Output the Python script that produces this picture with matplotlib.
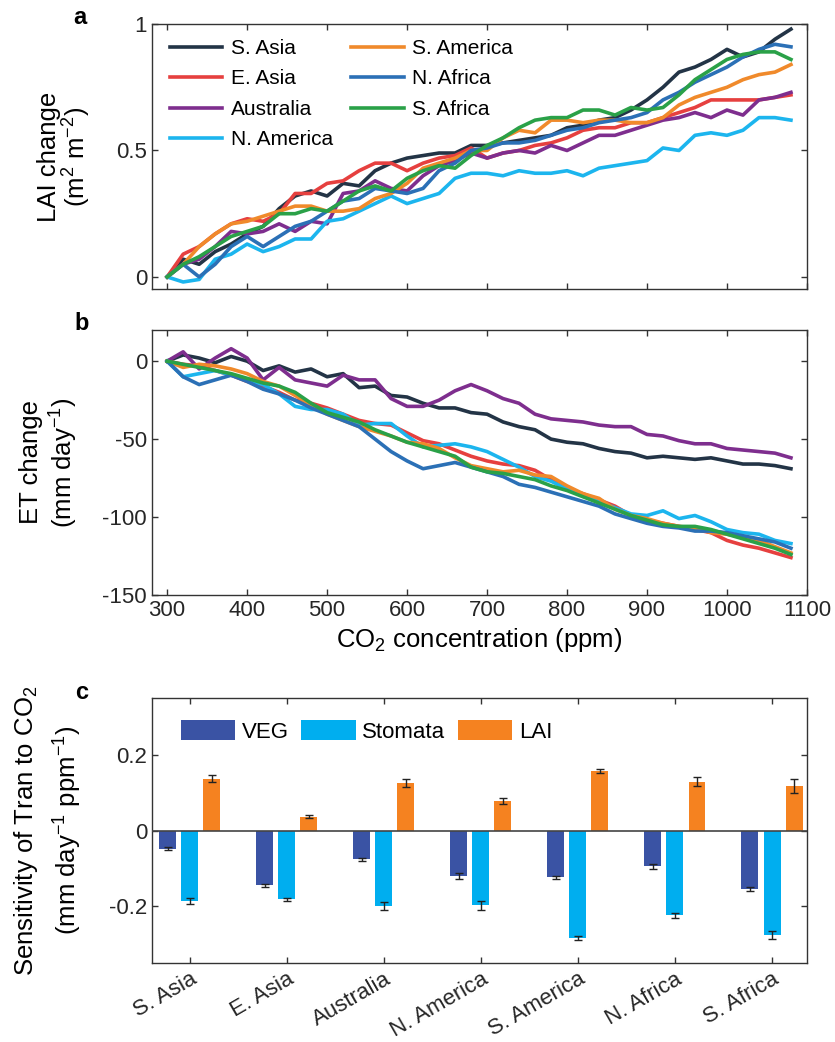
import matplotlib

matplotlib.use("Agg")
import matplotlib.pyplot as plt
import numpy as np

plt.rcParams["font.family"] = ["Liberation Sans", "DejaVu Sans"]
plt.rcParams["axes.unicode_minus"] = False
plt.rcParams["mathtext.fontset"] = "custom"
plt.rcParams["mathtext.rm"] = "Liberation Sans"
plt.rcParams["mathtext.it"] = "Liberation Sans:italic"
plt.rcParams["mathtext.bf"] = "Liberation Sans:bold"

# CO2 levels (ppm), every 20 ppm
co2 = np.arange(300, 1081, 20)

regions = ["S. Asia", "E. Asia", "Australia", "N. America",
           "S. America", "N. Africa", "S. Africa"]
colors = ["#233446", "#E6403F", "#7E2E8E", "#1CB5EE",
          "#F08A2B", "#2B70B6", "#2AA148"]

# LAI change (m2 m-2)
lai_sasia = [0.0, 0.07, 0.05, 0.10, 0.13, 0.17, 0.20, 0.27, 0.32, 0.34,
             0.32, 0.37, 0.36, 0.42, 0.45, 0.47, 0.48, 0.49, 0.49, 0.52,
             0.52, 0.53, 0.54, 0.55, 0.56, 0.59, 0.60, 0.62, 0.63, 0.66,
             0.70, 0.75, 0.81, 0.83, 0.86, 0.90, 0.87, 0.89, 0.94, 0.98]
lai_easia = [0.0, 0.09, 0.12, 0.17, 0.21, 0.23, 0.22, 0.25, 0.33, 0.33,
             0.37, 0.38, 0.42, 0.45, 0.45, 0.42, 0.45, 0.47, 0.48, 0.51,
             0.47, 0.49, 0.50, 0.52, 0.53, 0.55, 0.58, 0.59, 0.59, 0.61,
             0.61, 0.63, 0.65, 0.67, 0.70, 0.70, 0.70, 0.70, 0.71, 0.72]
lai_austr = [0.0, 0.05, 0.07, 0.12, 0.18, 0.17, 0.18, 0.21, 0.18, 0.22,
             0.21, 0.33, 0.34, 0.38, 0.35, 0.34, 0.40, 0.44, 0.46, 0.49,
             0.47, 0.49, 0.50, 0.49, 0.52, 0.50, 0.53, 0.56, 0.56, 0.58,
             0.60, 0.62, 0.63, 0.65, 0.63, 0.66, 0.64, 0.70, 0.71, 0.73]
lai_namer = [0.0, -0.02, -0.01, 0.07, 0.09, 0.13, 0.10, 0.12, 0.15, 0.15,
             0.22, 0.23, 0.26, 0.29, 0.32, 0.29, 0.31, 0.33, 0.39, 0.41,
             0.41, 0.40, 0.42, 0.41, 0.41, 0.42, 0.40, 0.43, 0.44, 0.45,
             0.46, 0.51, 0.50, 0.56, 0.57, 0.56, 0.58, 0.63, 0.63, 0.62]
lai_samer = [0.0, 0.05, 0.12, 0.17, 0.21, 0.22, 0.24, 0.26, 0.28, 0.28,
             0.26, 0.26, 0.27, 0.31, 0.33, 0.37, 0.43, 0.45, 0.47, 0.50,
             0.50, 0.55, 0.58, 0.57, 0.62, 0.62, 0.61, 0.62, 0.62, 0.61,
             0.61, 0.63, 0.68, 0.71, 0.73, 0.75, 0.78, 0.80, 0.81, 0.84]
lai_nafr = [0.0, 0.05, 0.00, 0.05, 0.12, 0.16, 0.12, 0.16, 0.20, 0.22,
            0.26, 0.30, 0.31, 0.35, 0.34, 0.33, 0.35, 0.42, 0.45, 0.50,
            0.51, 0.53, 0.53, 0.54, 0.56, 0.58, 0.59, 0.61, 0.62, 0.63,
            0.65, 0.70, 0.73, 0.77, 0.80, 0.83, 0.87, 0.90, 0.92, 0.91]
lai_safr = [0.0, 0.05, 0.08, 0.12, 0.16, 0.18, 0.20, 0.25, 0.25, 0.27,
            0.26, 0.30, 0.34, 0.36, 0.34, 0.39, 0.42, 0.44, 0.43, 0.48,
            0.52, 0.55, 0.59, 0.62, 0.63, 0.63, 0.66, 0.66, 0.64, 0.67,
            0.66, 0.67, 0.72, 0.78, 0.82, 0.86, 0.88, 0.89, 0.89, 0.86]

# ET change (mm day-1)
et_sasia = [0, 4, 2, -1, 3, 0, -6, -3, -7, -5,
            -10, -8, -17, -16, -22, -23, -27, -30, -30, -33,
            -34, -39, -42, -44, -50, -52, -53, -56, -58, -59,
            -62, -61, -62, -63, -62, -64, -66, -66, -67, -69]
et_easia = [0, -2, -3, -6, -9, -13, -16, -20, -25, -27,
            -30, -34, -38, -40, -41, -46, -51, -53, -57, -61,
            -64, -66, -67, -70, -76, -82, -85, -89, -93, -99,
            -102, -104, -106, -108, -110, -115, -118, -120, -123, -126]
et_austr = [0, 6, -5, 2, 8, 2, -12, -4, -12, -14,
            -16, -9, -12, -12, -24, -29, -29, -25, -19, -15,
            -19, -24, -27, -34, -37, -38, -39, -41, -42, -42,
            -47, -48, -51, -53, -53, -56, -57, -58, -59, -62]
et_namer = [0, -10, -8, -6, -9, -12, -15, -21, -29, -31,
            -31, -34, -41, -40, -40, -48, -55, -54, -53, -55,
            -58, -63, -68, -74, -77, -82, -86, -90, -94, -98,
            -99, -96, -101, -99, -103, -108, -110, -111, -115, -117]
et_samer = [0, -4, -2, -3, -5, -8, -13, -16, -22, -28,
            -34, -38, -42, -45, -48, -52, -53, -56, -62, -67,
            -69, -71, -70, -73, -74, -80, -85, -88, -95, -99,
            -101, -104, -106, -107, -110, -111, -113, -115, -119, -123]
et_nafr = [0, -10, -15, -12, -9, -13, -18, -21, -25, -30,
           -34, -38, -42, -50, -58, -64, -69, -67, -65, -68,
           -71, -74, -79, -81, -84, -87, -90, -93, -98, -101,
           -104, -106, -107, -109, -109, -110, -112, -114, -116, -120]
et_safr = [0, -2, -4, -6, -8, -11, -14, -16, -20, -27,
           -33, -36, -39, -44, -48, -52, -55, -58, -61, -68,
           -71, -72, -74, -76, -80, -83, -87, -91, -95, -99,
           -102, -105, -106, -106, -108, -111, -114, -117, -120, -124]

lai_all = [lai_sasia, lai_easia, lai_austr, lai_namer, lai_samer, lai_nafr, lai_safr]
et_all = [et_sasia, et_easia, et_austr, et_namer, et_samer, et_nafr, et_safr]

# panel c: sensitivity of transpiration to CO2 and error bars
veg = [-0.048, -0.145, -0.076, -0.120, -0.123, -0.095, -0.155]
veg_err = [0.004, 0.004, 0.004, 0.007, 0.004, 0.007, 0.006]
stomata = [-0.186, -0.182, -0.200, -0.197, -0.283, -0.224, -0.276]
stomata_err = [0.008, 0.004, 0.010, 0.012, 0.005, 0.006, 0.011]
lai_part = [0.137, 0.037, 0.125, 0.077, 0.157, 0.129, 0.117]
lai_part_err = [0.010, 0.004, 0.010, 0.008, 0.006, 0.012, 0.018]
bar_names = ["VEG", "Stomata", "LAI"]
bar_colors = ["#3A53A4", "#00AEEF", "#F58220"]

axcol = "#333333"
tick_fs = 16
label_fs = 18.5

fig = plt.figure(figsize=(8.35, 10.42), dpi=100)
ax_a = fig.add_axes([0.182, 0.7226, 0.7844, 0.2543])
ax_b = fig.add_axes([0.182, 0.4290, 0.7844, 0.2543])
ax_c = fig.add_axes([0.182, 0.0758, 0.7844, 0.2543])

for ax in (ax_a, ax_b, ax_c):
    for s in ax.spines.values():
        s.set_color(axcol)
        s.set_linewidth(1.0)
    ax.tick_params(direction="in", length=4, width=1, colors=axcol,
                   top=True, right=True, labelsize=tick_fs, labelcolor="#262626")

# a
for y, c, name in zip(lai_all, colors, regions):
    ax_a.plot(co2, y, color=c, lw=2.6, label=name)
ax_a.set_xlim(281, 1100)
ax_a.set_ylim(-0.048, 1.0)
ax_a.set_xticks(range(300, 1101, 100))
ax_a.set_xticklabels([])
ax_a.set_yticks([0, 0.5, 1])
ax_a.set_yticklabels(["0", "0.5", "1"])
ax_a.set_ylabel("LAI change\n(m$^{2}$ m$^{-2}$)", fontsize=label_fs, linespacing=1.0)
ax_a.yaxis.set_label_coords(-0.09, 0.5)
ax_a.legend(ncol=2, loc="upper left", bbox_to_anchor=(0.015, 0.975), frameon=False,
            fontsize=15, handlelength=2.5, handletextpad=0.4, labelspacing=0.55,
            columnspacing=0.9, borderaxespad=0)

# b
for y, c in zip(et_all, colors):
    ax_b.plot(co2, y, color=c, lw=2.6)
ax_b.set_xlim(281, 1100)
ax_b.set_ylim(-150, 20)
ax_b.set_xticks(range(300, 1101, 100))
ax_b.set_yticks([-150, -100, -50, 0])
ax_b.set_xlabel("CO$_2$ concentration (ppm)", fontsize=label_fs)
ax_b.set_ylabel("ET change\n(mm day$^{-1}$)", fontsize=label_fs, linespacing=1.2)
ax_b.yaxis.set_label_coords(-0.11, 0.5)

# c
pos = np.arange(1, len(regions) + 1)
offs = [-0.227, 0.0, 0.227]
vals = [veg, stomata, lai_part]
errs = [veg_err, stomata_err, lai_part_err]
for off, v, e, c, name in zip(offs, vals, errs, bar_colors, bar_names):
    ax_c.bar(pos + off, v, width=0.175, color=c, label=name, zorder=2)
    ax_c.errorbar(pos + off, v, yerr=e, fmt="none", ecolor="#222222",
                  elinewidth=1, capsize=3, capthick=1, zorder=3)
ax_c.axhline(0, color="#444444", lw=1.2, zorder=4)
ax_c.set_xlim(0.61, 7.36)
ax_c.set_ylim(-0.35, 0.35)
ax_c.set_yticks([-0.2, 0, 0.2])
ax_c.set_yticklabels(["-0.2", "0", "0.2"])
ax_c.set_xticks(pos)
ax_c.set_xticklabels(regions, rotation=30, ha="right", rotation_mode="anchor")
ax_c.tick_params(axis="x", pad=4)
# two-line y label, drawn as two texts
ax_c.text(-0.192, 0.5, "Sensitivity of Tran to CO$_2$", transform=ax_c.transAxes,
          rotation=90, ha="center", va="center", fontsize=label_fs)
ax_c.text(-0.128, 0.5, "(mm day$^{-1}$ ppm$^{-1}$)", transform=ax_c.transAxes,
          rotation=90, ha="center", va="center", fontsize=label_fs)
ax_c.legend(ncol=3, loc="center left", bbox_to_anchor=(0.044, 0.875), frameon=False,
            fontsize=16, handlelength=2.45, handleheight=1.05, handletextpad=0.3,
            columnspacing=0.55, borderaxespad=0, borderpad=0)

fig.text(0.096, 0.983, "a", fontsize=17, fontweight="bold", ha="center", va="center")
fig.text(0.098, 0.690, "b", fontsize=17, fontweight="bold", ha="center", va="center")
fig.text(0.098, 0.335, "c", fontsize=17, fontweight="bold", ha="center", va="center")

fig.savefig("out.png", dpi=100)
